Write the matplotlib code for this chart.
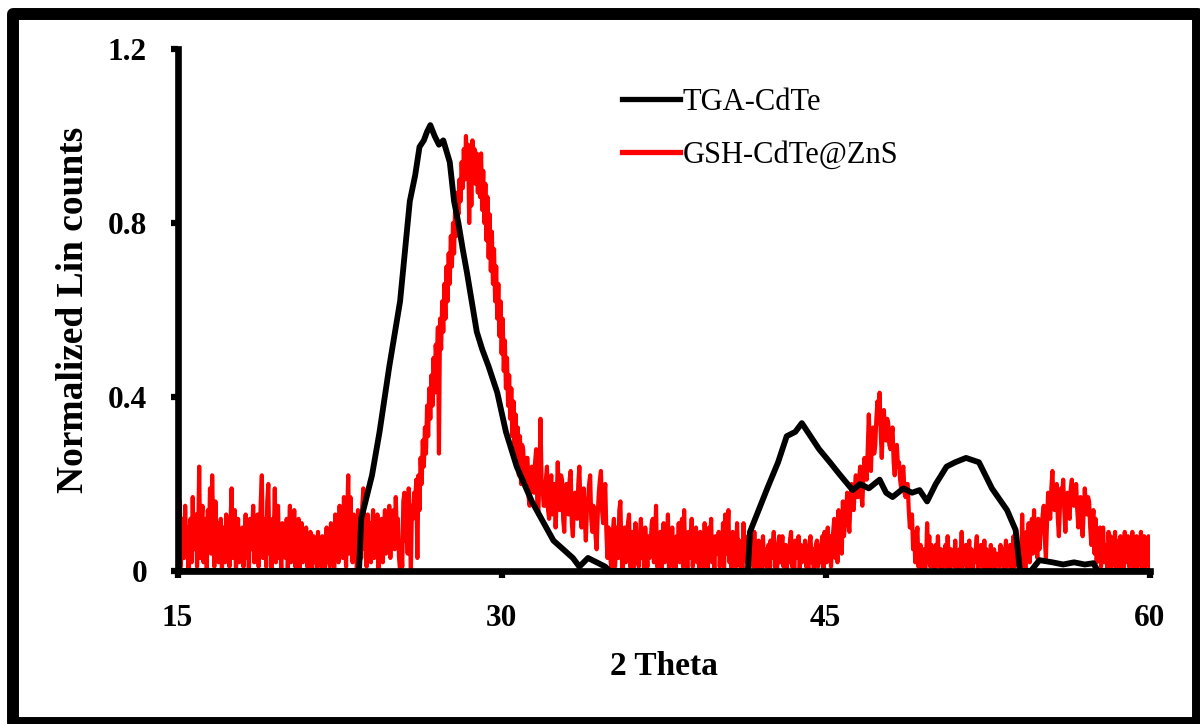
import matplotlib.pyplot as plt
from matplotlib.patches import Rectangle
import numpy as np

# TGA-CdTe (smooth trace)
tga_x = [15, 23.4, 23.5, 23.7, 24.0, 24.35, 24.8, 25.3, 25.75, 26.0, 26.2, 26.4, 26.55,
         26.7, 26.9, 27.1, 27.3, 27.6, 27.8, 28.0, 28.2, 28.4, 28.85, 29.1, 29.4, 29.8,
         30.2, 30.7, 31.4, 32.4, 33.3, 33.6, 34.0, 34.4, 34.8, 35.0, 41.4, 41.5, 42.3,
         42.8, 43.2, 43.6, 43.9, 44.3, 44.7, 45.2, 45.6, 46.25, 46.6, 47.0, 47.5, 47.8,
         48.1, 48.6, 49.0, 49.35, 49.7, 50.1, 50.6, 51.0, 51.5, 52.1, 52.7, 53.4, 53.8,
         54.0, 54.5, 54.9, 55.5, 56.0, 56.5, 57.0, 57.4, 57.6, 60]
tga_y = [0, 0, 0.12, 0.16, 0.22, 0.32, 0.47, 0.62, 0.85, 0.91, 0.975, 0.99, 1.01,
         1.025, 1.0, 0.98, 0.99, 0.94, 0.85, 0.80, 0.74, 0.685, 0.55, 0.51, 0.47, 0.41,
         0.32, 0.24, 0.16, 0.07, 0.03, 0.01, 0.03, 0.02, 0.01, 0, 0, 0.09, 0.19,
         0.25, 0.31, 0.32, 0.34, 0.31, 0.28, 0.25, 0.225, 0.186, 0.20, 0.19, 0.21, 0.18,
         0.17, 0.19, 0.18, 0.186, 0.16, 0.20, 0.24, 0.25, 0.26, 0.25, 0.19, 0.14, 0.094,
         0, 0, 0.025, 0.02, 0.015, 0.02, 0.015, 0.018, 0, 0]

# GSH-CdTe@ZnS (noisy trace, 0.05 deg steps from 15 to 60, one row per degree)
gsh_start, gsh_step = 15.0, 0.05
gsh_y = [
    0.13, 0.04, 0.16, 0.01, 0.09, 0.12, 0.03, 0.15, 0.06, 0.10, 0.00, 0.08, 0.12, 0.02, 0.17, 0.05, 0.09, 0.13, 0.01, 0.07,  # 15
    0.24, 0.03, 0.10, 0.15, 0.02, 0.08, 0.12, 0.00, 0.14, 0.06, 0.19, 0.04, 0.22, 0.09, 0.01, 0.16, 0.05, 0.11, 0.02, 0.08,  # 16
    0.12, 0.00, 0.07, 0.10, 0.02, 0.13, 0.04, 0.09, 0.01, 0.11, 0.19, 0.03, 0.08, 0.14, 0.00, 0.06, 0.12, 0.02, 0.09, 0.05,  # 17
    0.10, 0.01, 0.06, 0.13, 0.03, 0.08, 0.00, 0.12, 0.05, 0.09, 0.15, 0.02, 0.11, 0.04, 0.13, 0.01, 0.07, 0.16, 0.22, 0.03,  # 18
    0.06, 0.12, 0.01, 0.16, 0.20, 0.04, 0.09, 0.00, 0.12, 0.07, 0.19, 0.02, 0.10, 0.15, 0.03, 0.08, 0.00, 0.11, 0.05, 0.09,  # 19
    0.03, 0.12, 0.00, 0.08, 0.15, 0.02, 0.10, 0.06, 0.14, 0.01, 0.09, 0.04, 0.12, 0.00, 0.07, 0.11, 0.02, 0.08, 0.05, 0.10,  # 20
    0.01, 0.07, 0.03, 0.09, 0.00, 0.05, 0.08, 0.02, 0.06, 0.00, 0.09, 0.03, 0.07, 0.01, 0.08, 0.04, 0.00, 0.06, 0.10, 0.02,  # 21
    0.07, 0.01, 0.11, 0.04, 0.09, 0.00, 0.13, 0.05, 0.10, 0.02, 0.15, 0.06, 0.12, 0.03, 0.17, 0.08, 0.01, 0.13, 0.22, 0.04,  # 22
    0.17, 0.09, 0.02, 0.13, 0.06, 0.11, 0.00, 0.14, 0.08, 0.12, 0.03, 0.15, 0.19, 0.05, 0.10, 0.01, 0.13, 0.07, 0.11, 0.02,  # 23
    0.09, 0.14, 0.03, 0.11, 0.06, 0.13, 0.00, 0.10, 0.05, 0.12, 0.02, 0.09, 0.14, 0.04, 0.11, 0.07, 0.15, 0.03, 0.12, 0.08,  # 24
    0.14, 0.05, 0.17, 0.09, 0.12, 0.03, 0.00, 0.06, 0.01, 0.16, 0.18, 0.07, 0.13, 0.04, 0.19, 0.10, 0.00, 0.15, 0.12, 0.18,  # 25
    0.16, 0.21, 0.03, 0.22, 0.14, 0.26, 0.20, 0.30, 0.24, 0.33, 0.27, 0.38, 0.31, 0.42, 0.35, 0.45, 0.38, 0.49, 0.41, 0.52,  # 26
    0.47, 0.56, 0.27, 0.58, 0.51, 0.62, 0.55, 0.66, 0.58, 0.70, 0.62, 0.73, 0.66, 0.77, 0.70, 0.80, 0.73, 0.84, 0.77, 0.87,  # 27
    0.82, 0.90, 0.85, 0.94, 0.88, 0.97, 0.90, 1.00, 0.92, 0.98, 0.80, 0.95, 0.84, 0.99, 0.91, 0.97, 0.89, 0.96, 0.87, 0.95,  # 28
    0.86, 0.96, 0.83, 0.92, 0.80, 0.89, 0.76, 0.86, 0.72, 0.82, 0.69, 0.78, 0.66, 0.74, 0.62, 0.70, 0.58, 0.66, 0.54, 0.62,  # 29
    0.50, 0.58, 0.46, 0.53, 0.42, 0.49, 0.38, 0.45, 0.35, 0.42, 0.31, 0.39, 0.28, 0.36, 0.25, 0.33, 0.22, 0.31, 0.20, 0.29,  # 30
    0.28, 0.22, 0.20, 0.26, 0.26, 0.17, 0.15, 0.23, 0.24, 0.19, 0.18, 0.25, 0.28, 0.16, 0.13, 0.22, 0.35, 0.21, 0.19, 0.15,  # 31
    0.15, 0.21, 0.24, 0.14, 0.12, 0.19, 0.22, 0.13, 0.17, 0.20, 0.10, 0.16, 0.25, 0.17, 0.14, 0.22, 0.21, 0.12, 0.09, 0.18,  # 32
    0.20, 0.14, 0.13, 0.21, 0.23, 0.11, 0.08, 0.16, 0.18, 0.13, 0.12, 0.20, 0.24, 0.15, 0.10, 0.17, 0.19, 0.12, 0.07, 0.14,  # 33
    0.16, 0.20, 0.22, 0.12, 0.09, 0.15, 0.14, 0.08, 0.05, 0.13, 0.18, 0.21, 0.23, 0.14, 0.11, 0.17, 0.20, 0.09, 0.03, 0.10,  # 34
    0.08, 0.02, 0.00, 0.09, 0.12, 0.01, 0.05, 0.10, 0.03, 0.14, 0.16, 0.04, 0.00, 0.07, 0.10, 0.02, 0.06, 0.11, 0.13, 0.01,  # 35
    0.04, 0.09, 0.00, 0.06, 0.11, 0.02, 0.07, 0.01, 0.08, 0.12, 0.03, 0.07, 0.00, 0.10, 0.05, 0.01, 0.08, 0.03, 0.06, 0.11,  # 36
    0.12, 0.02, 0.06, 0.15, 0.01, 0.07, 0.03, 0.09, 0.00, 0.05, 0.11, 0.02, 0.08, 0.04, 0.13, 0.00, 0.07, 0.03, 0.10, 0.01,  # 37
    0.05, 0.00, 0.08, 0.03, 0.11, 0.02, 0.07, 0.12, 0.01, 0.14, 0.04, 0.08, 0.00, 0.09, 0.03, 0.06, 0.12, 0.01, 0.07, 0.03,  # 38
    0.10, 0.02, 0.06, 0.00, 0.09, 0.03, 0.07, 0.01, 0.11, 0.04, 0.08, 0.00, 0.10, 0.05, 0.12, 0.02, 0.07, 0.00, 0.08, 0.04,  # 39
    0.05, 0.09, 0.01, 0.07, 0.03, 0.11, 0.00, 0.13, 0.04, 0.08, 0.14, 0.02, 0.06, 0.00, 0.09, 0.03, 0.07, 0.01, 0.11, 0.04,  # 40
    0.07, 0.01, 0.05, 0.00, 0.11, 0.03, 0.06, 0.02, 0.08, 0.00, 0.05, 0.03, 0.07, 0.01, 0.09, 0.02, 0.06, 0.00, 0.07, 0.03,  # 41
    0.06, 0.00, 0.08, 0.02, 0.05, 0.01, 0.04, 0.06, 0.00, 0.07, 0.03, 0.05, 0.09, 0.01, 0.04, 0.00, 0.06, 0.08, 0.02, 0.05,  # 42
    0.08, 0.01, 0.03, 0.06, 0.00, 0.05, 0.02, 0.07, 0.09, 0.01, 0.04, 0.00, 0.07, 0.03, 0.05, 0.08, 0.00, 0.06, 0.02, 0.04,  # 43
    0.04, 0.07, 0.01, 0.05, 0.00, 0.06, 0.08, 0.02, 0.05, 0.00, 0.03, 0.06, 0.07, 0.01, 0.04, 0.02, 0.06, 0.08, 0.00, 0.09,  # 44
    0.05, 0.02, 0.10, 0.04, 0.08, 0.01, 0.06, 0.09, 0.12, 0.03, 0.07, 0.02, 0.14, 0.06, 0.10, 0.04, 0.16, 0.08, 0.11, 0.14,  # 45
    0.18, 0.12, 0.09, 0.16, 0.20, 0.15, 0.14, 0.19, 0.22, 0.17, 0.17, 0.21, 0.24, 0.18, 0.15, 0.22, 0.26, 0.23, 0.21, 0.28,  # 46
    0.36, 0.29, 0.23, 0.31, 0.33, 0.27, 0.29, 0.35, 0.39, 0.34, 0.41, 0.32, 0.26, 0.33, 0.37, 0.31, 0.30, 0.35, 0.34, 0.29,  # 47
    0.28, 0.31, 0.33, 0.25, 0.22, 0.27, 0.29, 0.24, 0.25, 0.21, 0.19, 0.23, 0.24, 0.18, 0.17, 0.20, 0.20, 0.14, 0.10, 0.12,  # 48
    0.13, 0.05, 0.09, 0.02, 0.07, 0.10, 0.01, 0.04, 0.06, 0.00, 0.03, 0.05, 0.00, 0.02, 0.11, 0.04, 0.08, 0.01, 0.06, 0.03,  # 49
    0.04, 0.00, 0.06, 0.02, 0.08, 0.01, 0.03, 0.05, 0.00, 0.04, 0.02, 0.06, 0.01, 0.08, 0.03, 0.00, 0.05, 0.02, 0.04, 0.01,  # 50
    0.07, 0.01, 0.04, 0.00, 0.05, 0.03, 0.09, 0.01, 0.04, 0.02, 0.06, 0.00, 0.03, 0.07, 0.01, 0.05, 0.00, 0.04, 0.02, 0.05,  # 51
    0.08, 0.00, 0.04, 0.02, 0.06, 0.01, 0.03, 0.07, 0.00, 0.05, 0.02, 0.04, 0.00, 0.06, 0.01, 0.03, 0.05, 0.00, 0.04, 0.02,  # 52
    0.04, 0.01, 0.06, 0.02, 0.05, 0.00, 0.03, 0.07, 0.01, 0.05, 0.02, 0.06, 0.00, 0.04, 0.08, 0.01, 0.05, 0.02, 0.06, 0.03,  # 53
    0.06, 0.01, 0.13, 0.03, 0.08, 0.00, 0.09, 0.04, 0.11, 0.02, 0.07, 0.12, 0.04, 0.14, 0.06, 0.10, 0.03, 0.12, 0.05, 0.09,  # 54
    0.10, 0.13, 0.15, 0.07, 0.03, 0.11, 0.18, 0.14, 0.12, 0.19, 0.23, 0.16, 0.14, 0.18, 0.20, 0.12, 0.08, 0.15, 0.19, 0.17,  # 55
    0.21, 0.14, 0.09, 0.15, 0.18, 0.13, 0.12, 0.19, 0.21, 0.16, 0.15, 0.18, 0.20, 0.14, 0.10, 0.15, 0.17, 0.12, 0.08, 0.14,  # 56
    0.19, 0.15, 0.13, 0.17, 0.16, 0.10, 0.06, 0.11, 0.14, 0.04, 0.12, 0.02, 0.08, 0.03, 0.10, 0.01, 0.07, 0.10, 0.02, 0.06,  # 57
    0.05, 0.00, 0.09, 0.03, 0.08, 0.01, 0.06, 0.02, 0.09, 0.00, 0.04, 0.07, 0.01, 0.08, 0.03, 0.06, 0.00, 0.09, 0.02, 0.05,  # 58
    0.08, 0.01, 0.06, 0.02, 0.09, 0.00, 0.05, 0.03, 0.08, 0.01, 0.07, 0.02, 0.09, 0.00, 0.05, 0.08, 0.01, 0.06, 0.03, 0.08,  # 59
    0.00,
]
gsh_x = gsh_start + gsh_step * np.arange(len(gsh_y))

x_ticks = [15, 30, 45, 60]
y_ticks = [0, 0.4, 0.8, 1.2]
y_tick_labels = ['0', '0.4', '0.8', '1.2']

serif = ['Liberation Serif', 'DejaVu Serif']

fig = plt.figure(figsize=(12, 7.24), dpi=100)
ax = fig.add_axes([0.148, 0.2113, 0.81, 0.7210])

ax.plot(gsh_x, gsh_y, color='#ff0000', lw=3.0, label='GSH-CdTe@ZnS', zorder=2)
ax.plot(tga_x, tga_y, color='black', lw=4.2, label='TGA-CdTe', zorder=3)

ax.set_xlim(15, 60)
ax.set_ylim(0, 1.2)
ax.set_xticks(x_ticks)
ax.set_yticks(y_ticks)
ax.set_yticklabels(y_tick_labels)

for side in ['top', 'right']:
    ax.spines[side].set_visible(False)
for side in ['left', 'bottom']:
    ax.spines[side].set_linewidth(4.8)
    ax.spines[side].set_zorder(4)

ax.tick_params(axis='both', direction='out', length=5, width=4.5, color='black')
ax.tick_params(axis='x', pad=19)
ax.tick_params(axis='y', pad=17)
for lab in ax.get_xticklabels() + ax.get_yticklabels():
    lab.set_family(serif)
    lab.set_fontweight('bold')
    lab.set_fontsize(22.5)

ax.set_xlabel('2 Theta', family=serif, fontweight='bold', fontsize=24, labelpad=13)
ax.set_ylabel('Normalized Lin counts', family=serif, fontweight='bold', fontsize=27,
              labelpad=12)

handles, labels = ax.get_legend_handles_labels()
leg = ax.legend(handles[::-1], labels[::-1], loc='upper left',
                bbox_to_anchor=(0.457, 0.926), frameon=False,
                prop={'family': serif, 'size': 22},
                handlelength=1.9, handletextpad=0.1, labelspacing=0.8,
                borderpad=0, borderaxespad=0)
for line in leg.get_lines():
    line.set_linewidth(3.8)

# outer frame (right and bottom edges run off the picture)
fig.patches.append(Rectangle((13 / 1200, 1 / 724), 1185 / 1200, 709 / 724,
                             transform=fig.transFigure, fill=False,
                             edgecolor='black', lw=8.6, joinstyle='round'))

fig.savefig('out.png', dpi=100)
